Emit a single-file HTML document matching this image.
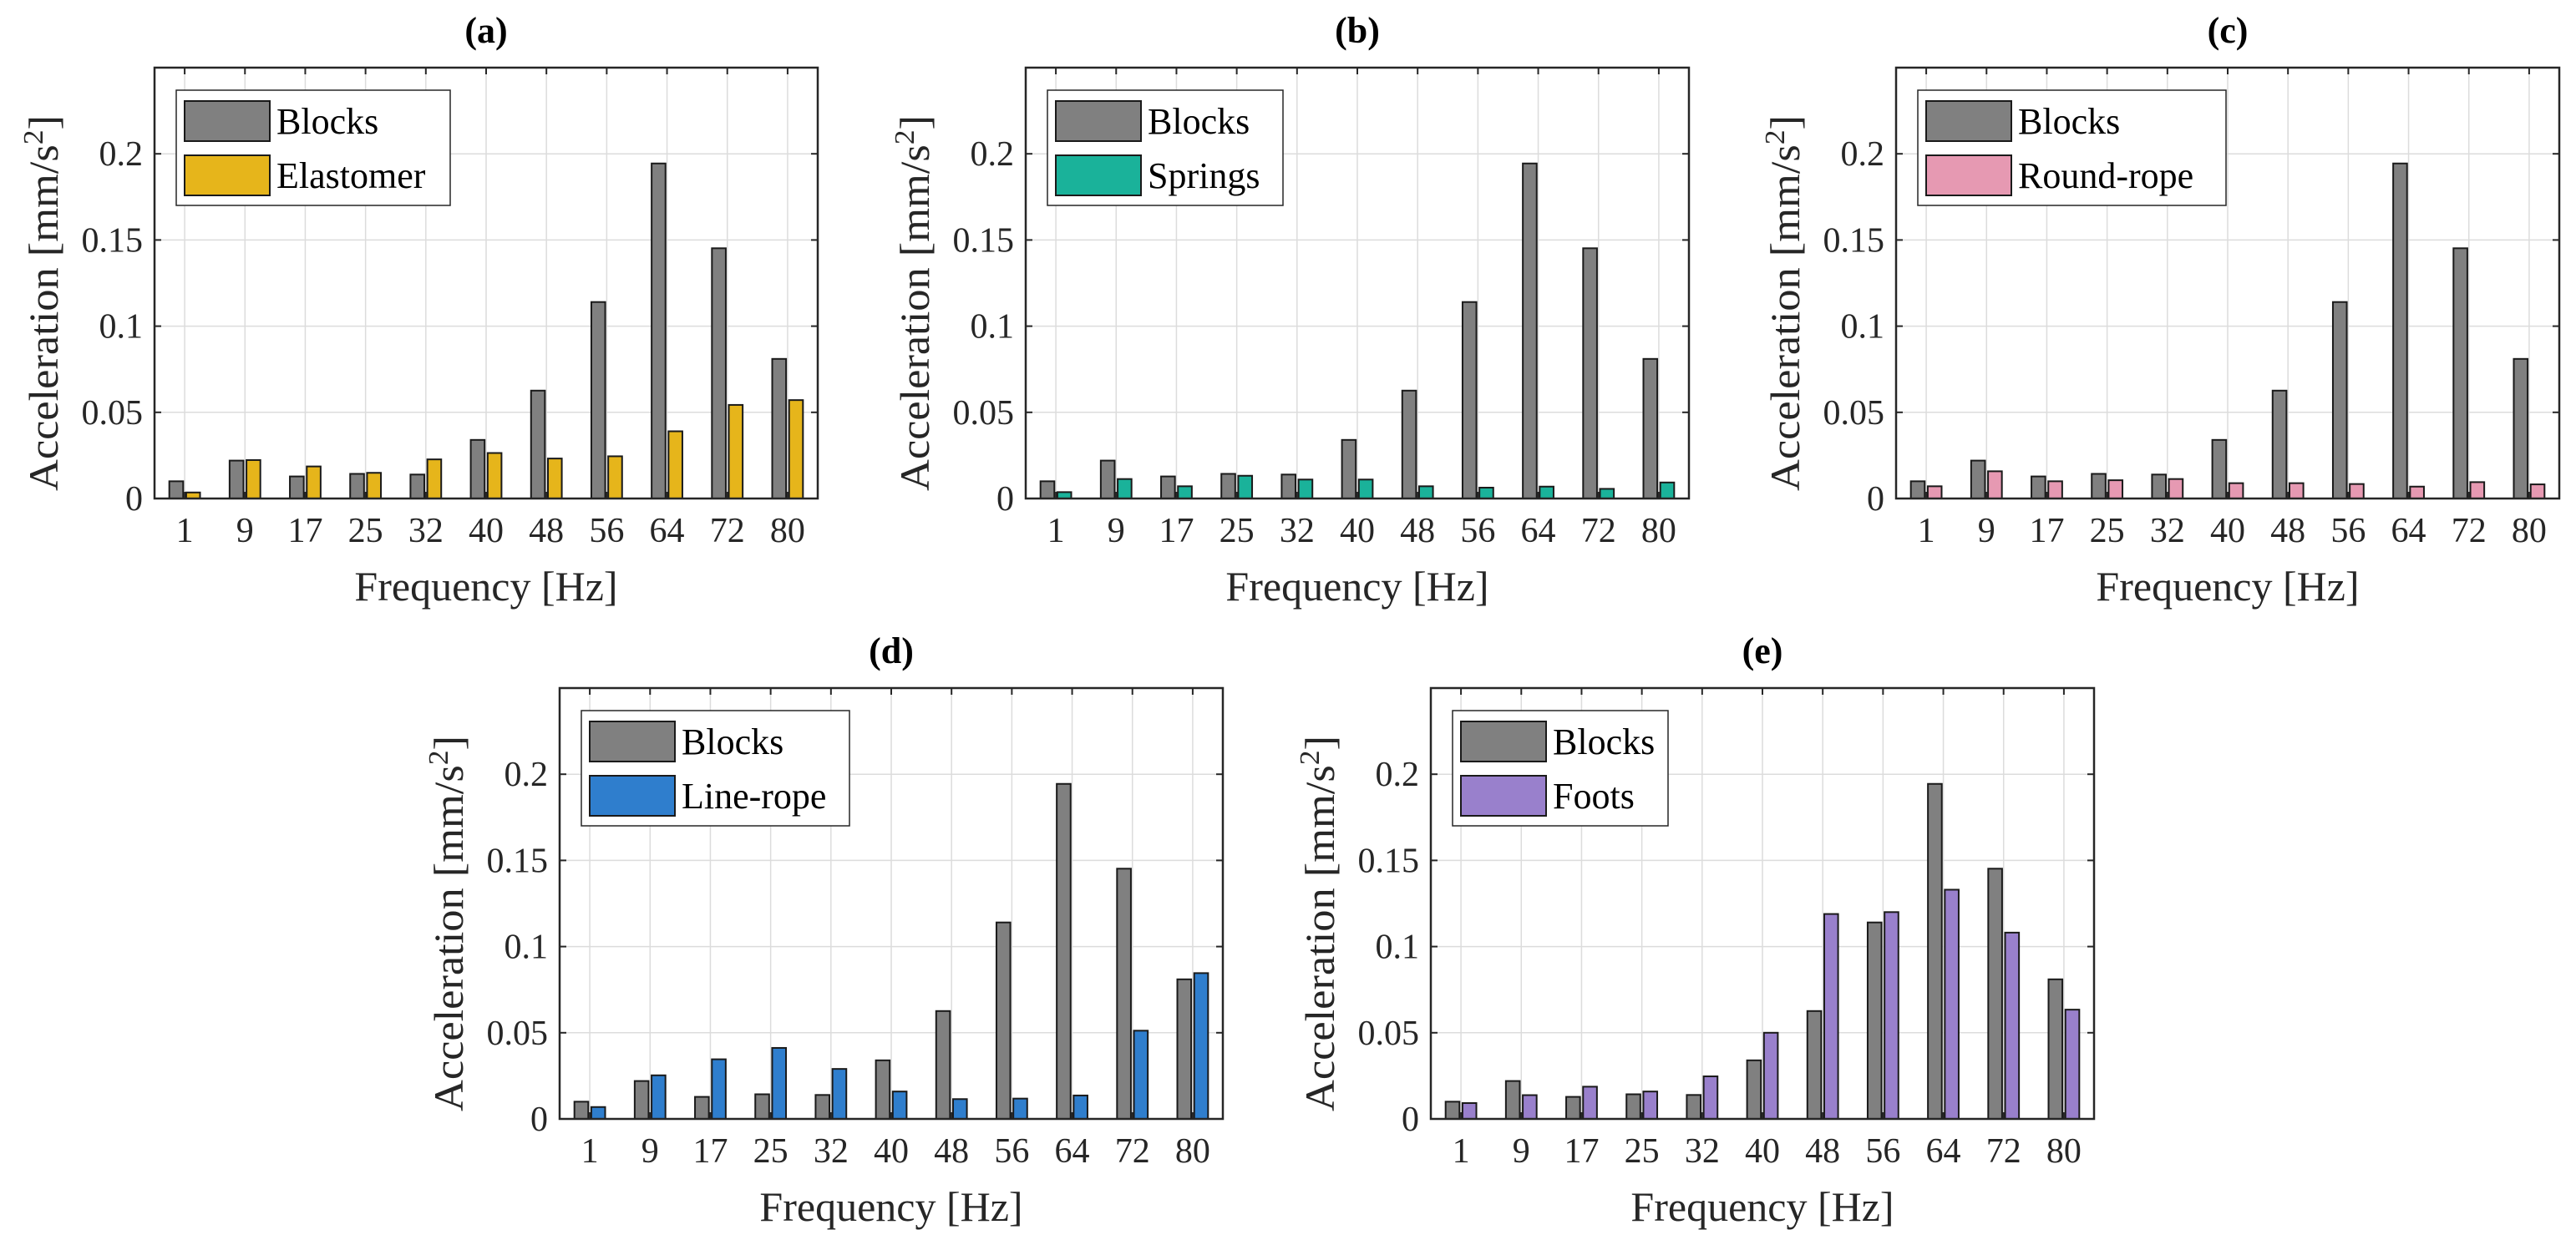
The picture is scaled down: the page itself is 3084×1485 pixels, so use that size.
<!DOCTYPE html>
<html><head><meta charset="utf-8"><style>
html,body{margin:0;padding:0;background:#fff;}
svg{display:block;font-family:"Liberation Serif",serif;}
</style></head><body>
<svg id="fig" width="3084" height="1485" viewBox="0 0 3084 1485" xmlns="http://www.w3.org/2000/svg"></svg>
<script>
const categories = ["1","9","17","25","32","40","48","56","64","72","80"];
const yTicks = [0, 0.05, 0.1, 0.15, 0.2];
const yTickLabels = ["0","0.05","0.1","0.15","0.2"];
const blocks = [0.010,0.022,0.0128,0.0143,0.0139,0.034,0.0626,0.114,0.1944,0.1452,0.081];
const elastomer = [0.0035,0.0223,0.0186,0.0149,0.0227,0.0264,0.0232,0.0245,0.039,0.0543,0.0571];
const springs = [0.0037,0.0113,0.0071,0.0132,0.011,0.011,0.0071,0.0063,0.0069,0.0056,0.0093];
const roundRope = [0.0071,0.0158,0.010,0.0106,0.0113,0.0089,0.0089,0.0084,0.0069,0.0095,0.0082];
const lineRope = [0.0069,0.0253,0.0346,0.0412,0.029,0.0159,0.0115,0.0118,0.0136,0.0512,0.0846];
const foots = [0.0092,0.0138,0.0187,0.0159,0.0247,0.050,0.1189,0.120,0.133,0.1081,0.0634];

const NS="http://www.w3.org/2000/svg";
const svg=document.getElementById('fig');
function mk(tag,attrs,parent){const e=document.createElementNS(NS,tag);for(const k in attrs)e.setAttribute(k,attrs[k]);(parent||svg).appendChild(e);return e;}

const panels=[
 {id:'a',x:185,y:81,series:elastomer,name:'Elastomer',color:'#E6B51B',lw:328},
 {id:'b',x:1228,y:81,series:springs,name:'Springs',color:'#1AB29A',lw:282},
 {id:'c',x:2270,y:81,series:roundRope,name:'Round-rope',color:'#E699B2',lw:369},
 {id:'d',x:670,y:824,series:lineRope,name:'Line-rope',color:'#2F7ECD',lw:321},
 {id:'e',x:1713,y:824,series:foots,name:'Foots',color:'#9980CC',lw:258}
];
const W=794,H=516,YMAX=0.25;

panels.forEach(p=>{
  const g=mk('g',{});
  
  
  const n=categories.length, step=W/n;
  const xs=i=>p.x+step*(i+0.5);
  const ys=v=>p.y+H-(v/YMAX)*H;
  // grid
  categories.forEach((c,i)=>{
    const l=mk('line',{x1:xs(i),x2:xs(i),y1:p.y,y2:p.y+H,stroke:'#dcdcdc','stroke-width':1.5},g);
    
    
  });
  yTicks.forEach((t,i)=>{
    const l=mk('line',{x1:p.x,x2:p.x+W,y1:ys(t),y2:ys(t),stroke:'#dcdcdc','stroke-width':1.5},g);
    
    
  });
  // bars
  const bw=step*0.23, off=step*0.14;
  categories.forEach((c,i)=>{
    const b1=mk('rect',{x:xs(i)-off-bw/2,y:ys(blocks[i]),width:bw,height:ys(0)-ys(blocks[i]),fill:'#808080',stroke:'#1a1a1a','stroke-width':2},g);
    
    
    const v=p.series[i];
    const b2=mk('rect',{x:xs(i)+off-bw/2,y:ys(v),width:bw,height:ys(0)-ys(v),fill:p.color,stroke:'#1a1a1a','stroke-width':2},g);
    
    
  });
  // ticks
  categories.forEach((c,i)=>{
    mk('line',{x1:xs(i),x2:xs(i),y1:p.y+H,y2:p.y+H-8,stroke:'#262626','stroke-width':2},g);
    mk('line',{x1:xs(i),x2:xs(i),y1:p.y,y2:p.y+8,stroke:'#262626','stroke-width':2},g);
    const t=mk('text',{x:xs(i),y:p.y+H+52,'font-size':42,'text-anchor':'middle',fill:'#262626'},g);
    t.textContent=c;
    
    
  });
  yTicks.forEach((tv,i)=>{
    mk('line',{x1:p.x,x2:p.x+8,y1:ys(tv),y2:ys(tv),stroke:'#262626','stroke-width':2},g);
    mk('line',{x1:p.x+W,x2:p.x+W-8,y1:ys(tv),y2:ys(tv),stroke:'#262626','stroke-width':2},g);
    const t=mk('text',{x:p.x-14,y:ys(tv)+14,'font-size':42,'text-anchor':'end',fill:'#262626'},g);
    t.textContent=yTickLabels[i];
    
    
  });
  // axes box
  const box=mk('rect',{x:p.x,y:p.y,width:W,height:H,fill:'none',stroke:'#262626','stroke-width':2.5},g);
  
  
  // labels
  const xl=mk('text',{x:p.x+W/2,y:p.y+H+122,'font-size':50,'text-anchor':'middle',fill:'#262626'},g);
  xl.textContent='Frequency [Hz]';
  
  
  const yl=mk('text',{x:0,y:0,'font-size':50,'text-anchor':'middle',fill:'#262626',textLength:450,lengthAdjust:'spacingAndGlyphs',transform:`translate(${p.x-116},${p.y+H/2+24}) rotate(-90)`},g);
  yl.innerHTML='Acceleration [mm/s<tspan dy="-18" font-size="34">2</tspan><tspan dy="18">]</tspan>';
  
  
  const ti=mk('text',{x:p.x+W/2,y:p.y-30,'font-size':44,'font-weight':'bold','text-anchor':'middle',fill:'#000'},g);
  ti.textContent='('+p.id+')';
  
  
  // legend
  const lg=mk('g',{},g);
  
  
  const lx=p.x+26, ly=p.y+27;
  mk('rect',{x:lx,y:ly,width:p.lw,height:138,fill:'#fff',stroke:'#262626','stroke-width':1.5},lg);
  const entries=[['Blocks','#808080'],[p.name,p.color]];
  entries.forEach((e,k)=>{
    const sw=mk('rect',{x:lx+10,y:ly+13+k*65,width:102,height:48,fill:e[1],stroke:'#1a1a1a','stroke-width':2},lg);
    
    
    const t=mk('text',{x:lx+120,y:ly+52+k*65,'font-size':44,fill:'#000'},lg);
    t.textContent=e[0];
    
    
  });
});
</script>
</body></html>
